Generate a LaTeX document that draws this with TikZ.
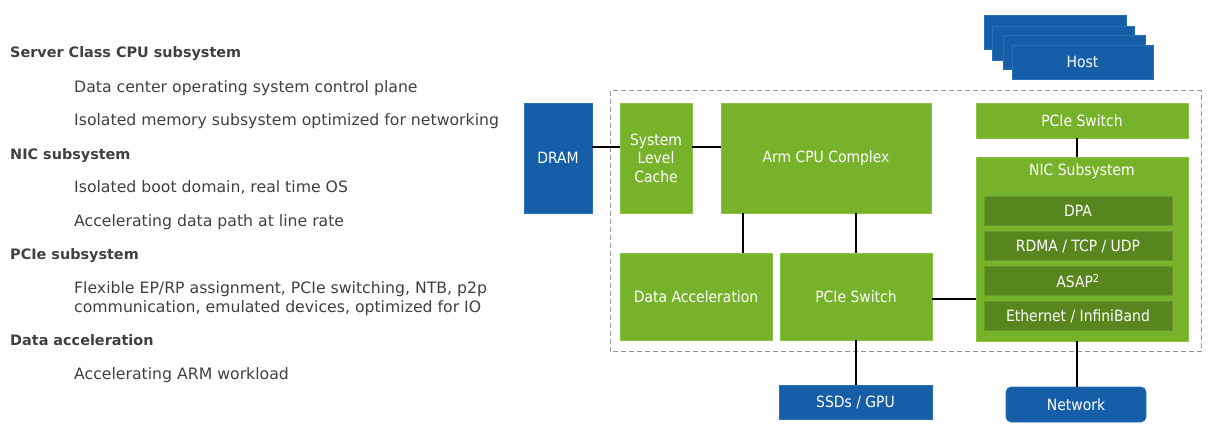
\documentclass[tikz,border=0pt]{standalone}
\usepackage{fontspec}
\setmainfont{DejaVu Sans}
\newfontfamily\boxfont{DejaVu Sans Condensed}
\usetikzlibrary{positioning,calc}
\definecolor{nvgreen}{RGB}{118,179,43}
\definecolor{nvgreenedge}{RGB}{138,196,66}
\definecolor{nvdark}{RGB}{88,134,30}
\definecolor{nvdarkedge}{RGB}{104,152,44}
\definecolor{nvblue}{RGB}{23,94,168}
\definecolor{nvblueedge}{RGB}{40,112,184}
\definecolor{txtgray}{RGB}{64,64,64}
\definecolor{dashgray}{RGB}{150,150,150}
\tikzset{
  greenbox/.style={fill=nvgreen, draw=nvgreenedge, line width=0.6pt, text=white, align=center,
    inner sep=0pt, font=\boxfont\fontsize{15.5}{18.5}\selectfont},
  subbox/.style={fill=nvdark, draw=nvdarkedge, line width=0.6pt, text=white, inner sep=0pt,
    minimum width=188pt, minimum height=28.5pt, font=\boxfont\fontsize{15.5}{17}\selectfont},
  bluebox/.style={fill=nvblue, draw=nvblueedge, line width=0.6pt, text=white, inner sep=0pt,
    font=\boxfont\fontsize{15.5}{17}\selectfont},
  lefthead/.style={anchor=base west, inner sep=0pt, text=txtgray, font=\fontsize{14.4}{19.4}\selectfont\bfseries},
  leftitem/.style={anchor=base west, inner sep=0pt, text=txtgray, align=left, font=\fontsize{15.7}{19.4}\selectfont},
  link/.style={draw=black, line width=1.3pt}
}
\begin{document}
\begin{tikzpicture}[x=1pt, y=-1pt]
  \useasboundingbox (0,0) rectangle (1215,435);

  % left column
  \node[lefthead] (hcpu) at (10,58) {Server Class CPU subsystem};
  \node[leftitem] (icpua) at (74,92.7) {Data center operating system control plane};
  \node[leftitem] (icpub) at (74,126) {Isolated memory subsystem optimized for networking};
  \node[lefthead] (hnic) at (10,160) {NIC subsystem};
  \node[leftitem] (inica) at (74,193) {Isolated boot domain, real time OS};
  \node[leftitem] (inicb) at (74,226.7) {Accelerating data path at line rate};
  \node[lefthead] (hpcie) at (10,260) {PCIe subsystem};
  \node[leftitem] (ipcie) at (74,312.7) {Flexible EP/RP assignment, PCIe switching, NTB, p2p\\communication, emulated devices, optimized for IO};
  \node[lefthead] (hdacc) at (10,346) {Data acceleration};
  \node[leftitem] (idacc) at (74,379.3) {Accelerating ARM workload};

  % chip outline
  \draw[dashgray, line width=1pt, dash pattern=on 5pt off 3pt] (610,91) rectangle (1201,352);

  % host stack
  \foreach \x/\y in {984/15, 992/26, 1003/35}
    \draw[fill=nvblue, draw=nvblueedge, line width=0.6pt] (\x,\y) rectangle ++(142,34);
  \node[bluebox, minimum width=141pt, minimum height=34pt] (host) at (1082.5,62) {Host};

  % blocks
  \node[bluebox, minimum width=68pt, minimum height=110pt] (dram) at (558,158) {DRAM};
  \node[greenbox, minimum width=72pt, minimum height=110pt] (slc) at (656,158) {System\\Level\\Cache};
  \node[greenbox, minimum width=210pt, minimum height=110pt] (arm) at (826,158) {Arm CPU Complex};
  \node[greenbox, minimum width=152pt, minimum height=87pt] (dacc) at (696,296.5) {Data Acceleration};
  \node[greenbox, minimum width=152pt, minimum height=87pt] (pcie) at (856,296.5) {PCIe Switch};
  \node[greenbox, minimum width=212pt, minimum height=35pt] (ptop) at (1082,120.5) {PCIe Switch};
  \node[greenbox, minimum width=212pt, minimum height=184pt] (nic) at (1082,249) {};
  \node[text=white, inner sep=0pt, font=\boxfont\fontsize{15.5}{17}\selectfont] (niclbl) at (1082,171) {NIC Subsystem};
  \node[subbox] (dpa) at (1078,211) {DPA};
  \node[subbox] (rdma) at (1078,246) {RDMA / TCP / UDP};
  \node[subbox] (asap) at (1078,281) {ASAP\textsuperscript{2}};
  \node[subbox] (eth) at (1078,316) {Ethernet / InfiniBand};
  \node[bluebox, minimum width=153pt, minimum height=34pt] (ssd) at (855.5,402) {SSDs / GPU};
  \node[bluebox, rounded corners=5pt, minimum width=140pt, minimum height=35pt] (net) at (1076,404.5) {Network};

  % connections
  \draw[link] ([yshift=11pt]dram.east) -- ([yshift=11pt]slc.west);
  \draw[link] ([yshift=11pt]slc.east) -- ([yshift=11pt]arm.west);
  \draw[link] ([xshift=47pt]dacc.north) -- ([xshift=47pt]dacc.north |- arm.south);
  \draw[link] (pcie.north) -- (pcie.north |- arm.south);
  \draw[link] ([yshift=-2.5pt]pcie.east) -- ([yshift=-2.5pt]pcie.east -| nic.west);
  \draw[link] ([xshift=-5pt]ptop.south) -- ([xshift=-5pt]ptop.south |- nic.north);
  \draw[link] (pcie.south) -- (pcie.south |- ssd.north);
  \draw[link] ([xshift=1pt]net.north |- nic.south) -- ([xshift=1pt]net.north);
\end{tikzpicture}
\end{document}
